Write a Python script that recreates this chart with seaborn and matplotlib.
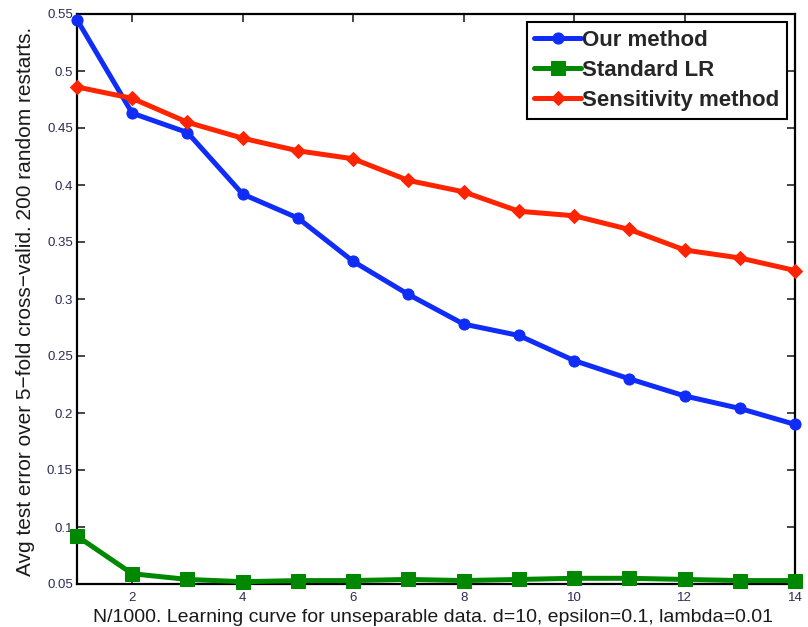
import matplotlib
matplotlib.use("Agg")
import matplotlib.pyplot as plt
import seaborn as sns
import pandas as pd
import numpy as np

x_vals = list(range(1, 15))
our_method = [0.545, 0.463, 0.446, 0.392, 0.371, 0.333, 0.304, 0.278, 0.268, 0.246, 0.230, 0.215, 0.204, 0.190]
standard_lr = [0.092, 0.059, 0.054, 0.052, 0.053, 0.053, 0.054, 0.053, 0.054, 0.055, 0.055, 0.054, 0.053, 0.053]
sensitivity = [0.486, 0.476, 0.455, 0.441, 0.430, 0.423, 0.404, 0.394, 0.377, 0.373, 0.361, 0.343, 0.336, 0.325]
series_names = ["Our method", "Standard LR", "Sensitivity method"]
x_ticks = [2, 4, 6, 8, 10, 12, 14]
y_ticks = [0.05, 0.1, 0.15, 0.2, 0.25, 0.3, 0.35, 0.4, 0.45, 0.5, 0.55]
y_tick_labels = ["0.05", "0.1", "0.15", "0.2", "0.25", "0.3", "0.35", "0.4", "0.45", "0.5", "0.55"]
x_label = "N/1000. Learning curve for unseparable data. d=10, epsilon=0.1, lambda=0.01"
y_label = "Avg test error over 5\u2212fold cross\u2212valid. 200 random restarts."

df = pd.DataFrame({
    "x": x_vals * 3,
    "y": our_method + standard_lr + sensitivity,
    "series": [series_names[0]] * 14 + [series_names[1]] * 14 + [series_names[2]] * 14,
})

sns.set_style("white")
plt.rcParams["font.family"] = ["Liberation Sans", "DejaVu Sans"]

fig = plt.figure(figsize=(8.08, 6.27), dpi=100)
ax = fig.add_axes([77 / 808, 1 - 584 / 627, (795 - 77) / 808, (584 - 14) / 627])

palette = {"Our method": "#0f2cf8", "Standard LR": "#008800", "Sensitivity method": "#ff2400"}
markers = {"Our method": "o", "Standard LR": "s", "Sensitivity method": "D"}
sizes_m = {"Our method": 8, "Standard LR": 10.5, "Sensitivity method": 7}

for name in series_names:
    sub = df[df["series"] == name]
    sns.lineplot(data=sub, x="x", y="y", ax=ax, color=palette[name], marker=markers[name],
                 markersize=sizes_m[name], linewidth=3.6, markeredgecolor=palette[name],
                 label=name, legend=False, clip_on=False, zorder=3)

ax.set_xlim(1, 14)
ax.set_ylim(0.05, 0.55)
ax.set_xticks(x_ticks)
ax.set_yticks(y_ticks)
ax.set_yticklabels(y_tick_labels)
ax.tick_params(direction="in", length=6, width=1.2, labelsize=9.5, labelcolor="#2b2b55",
               top=True, right=True, bottom=True, left=True)
ax.tick_params(axis="y", pad=3)
ax.tick_params(axis="x", pad=6)
for s in ax.spines.values():
    s.set_linewidth(1.6)
    s.set_color("black")
ax.set_xlabel(x_label, fontsize=14, color="#1a1a1a")
ax.set_ylabel(y_label, fontsize=15, color="#1a1a1a")
ax.xaxis.set_label_coords(0.496, -0.043)
ax.yaxis.set_label_coords(-0.058, 0.496)

leg = ax.legend(loc="upper right", fancybox=False, framealpha=1, edgecolor="black",
                prop={"weight": "bold", "size": 16}, handlelength=2.1, handletextpad=0.05,
                borderpad=0.35, labelspacing=0.42, borderaxespad=0.35)
leg.get_frame().set_linewidth(1.5)
leg.set_zorder(5)

fig.savefig("out.png", dpi=100)
